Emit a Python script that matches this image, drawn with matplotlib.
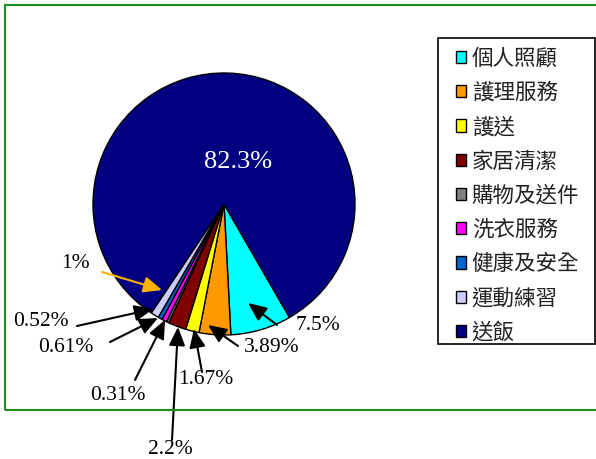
import numpy as np
import matplotlib
matplotlib.use('Agg')
import matplotlib.pyplot as plt
from matplotlib.patches import Patch, Rectangle

W, H = 596, 459

labels = ['個人照顧', '護理服務', '護送', '家居清潔', '購物及送件',
          '洗衣服務', '健康及安全', '運動練習', '送飯']
values = [7.5, 3.89, 1.67, 2.2, 0.31, 0.61, 0.52, 1, 82.3]
colors = ['#00FFFF', '#FF9900', '#FFFF00', '#800000', '#808080',
          '#FF00FF', '#0066CC', '#CCCCFF', '#000080']
value_text = ['%g%%' % v for v in values]

def px(x, y):
    # pixel (from top-left) -> figure fraction
    return (x / W, 1 - y / H)

fig = plt.figure(figsize=(W / 100, H / 100), dpi=100)

# green outer frame
fig.patches.append(Rectangle(px(5, 410), (W + 10) / W, 405 / H, transform=fig.transFigure,
                             fill=False, edgecolor='#1E8C1E', linewidth=1.5))

# pie axes: centre (224, 204), radius 131 px
cx, cy, r = 224, 204, 131
ax = fig.add_axes([(cx - r) / W, (H - cy - r) / H, 2 * r / W, 2 * r / H])
wedges, _ = ax.pie(values, colors=colors, startangle=-60, counterclock=False,
                   wedgeprops=dict(edgecolor='black', linewidth=1))
ax.set_xlim(-1, 1)
ax.set_ylim(-1, 1)
ax.set_aspect('equal')
ax.axis('off')

num_font = dict(family='Liberation Serif', fontsize=15.5)

# big label inside
fig.text(*px(238, 162), value_text[8], color='white', ha='center', va='center',
         family='Liberation Serif', fontsize=19)

# (text centre, arrow tail, arrow head) for each small slice
label_pos = [(318, 326), (272, 347), (206, 380), (170, 450), (118, 396),
             (66, 347), (41, 321), (75, 263)]
tails = [(277, 325), (238, 346), (202, 372), (172, 440), (135, 380),
         (110, 342), (77, 326), (102, 272)]
heads = [(248, 303), (208, 325), (194, 329), (178, 327), (165, 320),
         (158, 318), (153, 309), (162, 290)]
arrow_colors = ['black'] * 7 + ['#FFB000']

for i in range(8):
    fig.text(*px(*label_pos[i]), value_text[i], ha='center', va='center', **num_font)
    ax.annotate('', xy=px(*heads[i]), xytext=px(*tails[i]),
                xycoords='figure fraction', textcoords='figure fraction',
                arrowprops=dict(arrowstyle='-|>,head_length=0.8,head_width=0.35',
                                color=arrow_colors[i], lw=1.5, mutation_scale=14,
                                shrinkA=0, shrinkB=0))

# legend box drawn by hand (wider right padding than matplotlib gives)
fig.patches.append(Rectangle(px(438, 344), 157 / W, 306 / H, transform=fig.transFigure,
                             facecolor='white', edgecolor='black', linewidth=1.2))
handles = [Patch(facecolor=c, edgecolor='black', linewidth=1) for c in colors]
leg = fig.legend(handles, labels, loc='upper left', bbox_to_anchor=px(447, 39),
                 prop={'family': ['Noto Sans CJK TC', 'DejaVu Sans'], 'size': 15.5},
                 frameon=False, handlelength=0.5, handleheight=0.5, handletextpad=0.25,
                 labelspacing=0.57, borderpad=0.4, borderaxespad=0)
for t in leg.get_texts():
    t.set_color('#222222')

fig.savefig('out.png', dpi=100)
